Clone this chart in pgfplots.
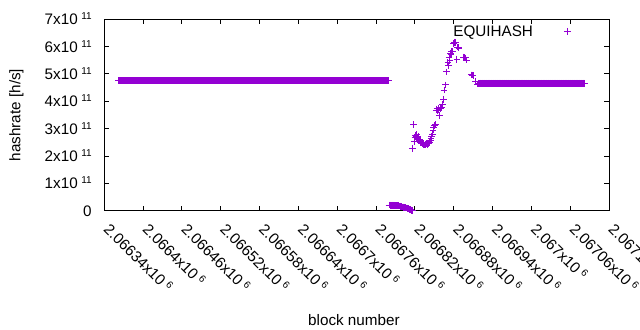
\documentclass[border=0pt]{standalone}
\usepackage{pgfplots}
\pgfplotsset{compat=1.18}
\usepackage{fontspec}
\setmainfont{Liberation Sans}
\definecolor{gpviolet}{HTML}{9400D3}
\newcommand{\sci}[2]{#1x10\hspace{3.5bp}\raisebox{5bp}{\fontsize{10}{10}\selectfont #2}}
\begin{document}
\begin{tikzpicture}[font=\fontsize{15.3}{18}\selectfont]
\begin{axis}[
  at={(0,0)}, anchor=south west,
  scale only axis, width=504.7bp, height=191.4bp,
  xmin=2066340, xmax=2067120, ymin=0, ymax=7e11,
  axis line style={line width=1bp},
  tick style={black, line width=1bp},
  major tick length=4.7bp,
  tick align=inside,
  xtick pos=both, ytick pos=both,
  xtick={2066340,2066400,2066460,2066520,2066580,2066640,2066700,2066760,2066820,2066880,2066940,2067000,2067060,2067120},
  xticklabels={\sci{2.06634}{6},\sci{2.0664}{6},\sci{2.06646}{6},\sci{2.06652}{6},\sci{2.06658}{6},\sci{2.06664}{6},\sci{2.0667}{6},\sci{2.06676}{6},\sci{2.06682}{6},\sci{2.06688}{6},\sci{2.06694}{6},\sci{2.067}{6},\sci{2.06706}{6},\sci{2.06712}{6}},
  ytick={0,1e11,2e11,3e11,4e11,5e11,6e11,7e11},
  yticklabels={0,\sci{1}{11},\sci{2}{11},\sci{3}{11},\sci{4}{11},\sci{5}{11},\sci{6}{11},\sci{7}{11}},
  xticklabel style={xshift=-1.5bp, yshift=-19.3bp, rotate=-45, anchor=base west, inner sep=0pt},
  yticklabel style={xshift=-12.5bp, yshift=-5.4bp, anchor=base east, inner sep=0pt},
  scaled x ticks=false, scaled y ticks=false,
  xlabel={block number}, ylabel={hashrate [h/s]},
  every axis x label/.style={at={(axis description cs:0.5,0)}, xshift=-2.7bp, yshift=-114.3bp, anchor=base},
  every axis y label/.style={at={(axis description cs:0,0.5)}, xshift=-87.8bp, rotate=90, anchor=center},
  legend style={at={(axis description cs:0.9243,0.936)}, anchor=east, draw=none, fill=none, inner sep=0pt, column sep=31bp, nodes={inner sep=0pt}},
  legend plot pos=right,
  legend cell align=right,
  legend image code/.code={\draw[#1] plot coordinates {(0bp,0bp)};},
  mydata/.style={only marks, mark=+, mark size=3.3bp, color=gpviolet, mark options={line width=1bp}},
]
\addplot[mydata] coordinates {
(2066362,4.76e11) (2066363,4.76e11) (2066364,4.76e11) (2066365,4.76e11) (2066366,4.76e11) (2066367,4.76e11) (2066368,4.76e11) (2066369,4.76e11)
(2066370,4.76e11) (2066371,4.76e11) (2066372,4.76e11) (2066373,4.76e11) (2066374,4.76e11) (2066375,4.76e11) (2066376,4.76e11) (2066377,4.76e11) (2066378,4.76e11) (2066379,4.76e11)
(2066380,4.76e11) (2066381,4.76e11) (2066382,4.76e11) (2066383,4.76e11) (2066384,4.76e11) (2066385,4.76e11) (2066386,4.76e11) (2066387,4.76e11) (2066388,4.76e11) (2066389,4.76e11)
(2066390,4.76e11) (2066391,4.76e11) (2066392,4.76e11) (2066393,4.76e11) (2066394,4.76e11) (2066395,4.76e11) (2066396,4.76e11) (2066397,4.76e11) (2066398,4.76e11) (2066399,4.76e11)
(2066400,4.76e11) (2066401,4.76e11) (2066402,4.76e11) (2066403,4.76e11) (2066404,4.76e11) (2066405,4.76e11) (2066406,4.76e11) (2066407,4.76e11) (2066408,4.76e11) (2066409,4.76e11)
(2066410,4.76e11) (2066411,4.76e11) (2066412,4.76e11) (2066413,4.76e11) (2066414,4.76e11) (2066415,4.76e11) (2066416,4.76e11) (2066417,4.76e11) (2066418,4.76e11) (2066419,4.76e11)
(2066420,4.76e11) (2066421,4.76e11) (2066422,4.76e11) (2066423,4.76e11) (2066424,4.76e11) (2066425,4.76e11) (2066426,4.76e11) (2066427,4.76e11) (2066428,4.76e11) (2066429,4.76e11)
(2066430,4.76e11) (2066431,4.76e11) (2066432,4.76e11) (2066433,4.76e11) (2066434,4.76e11) (2066435,4.76e11) (2066436,4.76e11) (2066437,4.76e11) (2066438,4.76e11) (2066439,4.76e11)
(2066440,4.76e11) (2066441,4.76e11) (2066442,4.76e11) (2066443,4.76e11) (2066444,4.76e11) (2066445,4.76e11) (2066446,4.76e11) (2066447,4.76e11) (2066448,4.76e11) (2066449,4.76e11)
(2066450,4.76e11) (2066451,4.76e11) (2066452,4.76e11) (2066453,4.76e11) (2066454,4.76e11) (2066455,4.76e11) (2066456,4.76e11) (2066457,4.76e11) (2066458,4.76e11) (2066459,4.76e11)
(2066460,4.76e11) (2066461,4.76e11) (2066462,4.76e11) (2066463,4.76e11) (2066464,4.76e11) (2066465,4.76e11) (2066466,4.76e11) (2066467,4.76e11) (2066468,4.76e11) (2066469,4.76e11)
(2066470,4.76e11) (2066471,4.76e11) (2066472,4.76e11) (2066473,4.76e11) (2066474,4.76e11) (2066475,4.76e11) (2066476,4.76e11) (2066477,4.76e11) (2066478,4.76e11) (2066479,4.76e11)
(2066480,4.76e11) (2066481,4.76e11) (2066482,4.76e11) (2066483,4.76e11) (2066484,4.76e11) (2066485,4.76e11) (2066486,4.76e11) (2066487,4.76e11) (2066488,4.76e11) (2066489,4.76e11)
(2066490,4.76e11) (2066491,4.76e11) (2066492,4.76e11) (2066493,4.76e11) (2066494,4.76e11) (2066495,4.76e11) (2066496,4.76e11) (2066497,4.76e11) (2066498,4.76e11) (2066499,4.76e11)
(2066500,4.76e11) (2066501,4.76e11) (2066502,4.76e11) (2066503,4.76e11) (2066504,4.76e11) (2066505,4.76e11) (2066506,4.76e11) (2066507,4.76e11) (2066508,4.76e11) (2066509,4.76e11)
(2066510,4.76e11) (2066511,4.76e11) (2066512,4.76e11) (2066513,4.76e11) (2066514,4.76e11) (2066515,4.76e11) (2066516,4.76e11) (2066517,4.76e11) (2066518,4.76e11) (2066519,4.76e11)
(2066520,4.76e11) (2066521,4.76e11) (2066522,4.76e11) (2066523,4.76e11) (2066524,4.76e11) (2066525,4.76e11) (2066526,4.76e11) (2066527,4.76e11) (2066528,4.76e11) (2066529,4.76e11)
(2066530,4.76e11) (2066531,4.76e11) (2066532,4.76e11) (2066533,4.76e11) (2066534,4.76e11) (2066535,4.76e11) (2066536,4.76e11) (2066537,4.76e11) (2066538,4.76e11) (2066539,4.76e11)
(2066540,4.76e11) (2066541,4.76e11) (2066542,4.76e11) (2066543,4.76e11) (2066544,4.76e11) (2066545,4.76e11) (2066546,4.76e11) (2066547,4.76e11) (2066548,4.76e11) (2066549,4.76e11)
(2066550,4.76e11) (2066551,4.76e11) (2066552,4.76e11) (2066553,4.76e11) (2066554,4.76e11) (2066555,4.76e11) (2066556,4.76e11) (2066557,4.76e11) (2066558,4.76e11) (2066559,4.76e11)
(2066560,4.76e11) (2066561,4.76e11) (2066562,4.76e11) (2066563,4.76e11) (2066564,4.76e11) (2066565,4.76e11) (2066566,4.76e11) (2066567,4.76e11) (2066568,4.76e11) (2066569,4.76e11)
(2066570,4.76e11) (2066571,4.76e11) (2066572,4.76e11) (2066573,4.76e11) (2066574,4.76e11) (2066575,4.76e11) (2066576,4.76e11) (2066577,4.76e11) (2066578,4.76e11) (2066579,4.76e11)
(2066580,4.76e11) (2066581,4.76e11) (2066582,4.76e11) (2066583,4.76e11) (2066584,4.76e11) (2066585,4.76e11) (2066586,4.76e11) (2066587,4.76e11) (2066588,4.76e11) (2066589,4.76e11)
(2066590,4.76e11) (2066591,4.76e11) (2066592,4.76e11) (2066593,4.76e11) (2066594,4.76e11) (2066595,4.76e11) (2066596,4.76e11) (2066597,4.76e11) (2066598,4.76e11) (2066599,4.76e11)
(2066600,4.76e11) (2066601,4.76e11) (2066602,4.76e11) (2066603,4.76e11) (2066604,4.76e11) (2066605,4.76e11) (2066606,4.76e11) (2066607,4.76e11) (2066608,4.76e11) (2066609,4.76e11)
(2066610,4.76e11) (2066611,4.76e11) (2066612,4.76e11) (2066613,4.76e11) (2066614,4.76e11) (2066615,4.76e11) (2066616,4.76e11) (2066617,4.76e11) (2066618,4.76e11) (2066619,4.76e11)
(2066620,4.76e11) (2066621,4.76e11) (2066622,4.76e11) (2066623,4.76e11) (2066624,4.76e11) (2066625,4.76e11) (2066626,4.76e11) (2066627,4.76e11) (2066628,4.76e11) (2066629,4.76e11)
(2066630,4.76e11) (2066631,4.76e11) (2066632,4.76e11) (2066633,4.76e11) (2066634,4.76e11) (2066635,4.76e11) (2066636,4.76e11) (2066637,4.76e11) (2066638,4.76e11) (2066639,4.76e11)
(2066640,4.76e11) (2066641,4.76e11) (2066642,4.76e11) (2066643,4.76e11) (2066644,4.76e11) (2066645,4.76e11) (2066646,4.76e11) (2066647,4.76e11) (2066648,4.76e11) (2066649,4.76e11)
(2066650,4.76e11) (2066651,4.76e11) (2066652,4.76e11) (2066653,4.76e11) (2066654,4.76e11) (2066655,4.76e11) (2066656,4.76e11) (2066657,4.76e11) (2066658,4.76e11) (2066659,4.76e11)
(2066660,4.76e11) (2066661,4.76e11) (2066662,4.76e11) (2066663,4.76e11) (2066664,4.76e11) (2066665,4.76e11) (2066666,4.76e11) (2066667,4.76e11) (2066668,4.76e11) (2066669,4.76e11)
(2066670,4.76e11) (2066671,4.76e11) (2066672,4.76e11) (2066673,4.76e11) (2066674,4.76e11) (2066675,4.76e11) (2066676,4.76e11) (2066677,4.76e11) (2066678,4.76e11) (2066679,4.76e11)
(2066680,4.76e11) (2066681,4.76e11) (2066682,4.76e11) (2066683,4.76e11) (2066684,4.76e11) (2066685,4.76e11) (2066686,4.76e11) (2066687,4.76e11) (2066688,4.76e11) (2066689,4.76e11)
(2066690,4.76e11) (2066691,4.76e11) (2066692,4.76e11) (2066693,4.76e11) (2066694,4.76e11) (2066695,4.76e11) (2066696,4.76e11) (2066697,4.76e11) (2066698,4.76e11) (2066699,4.76e11)
(2066700,4.76e11) (2066701,4.76e11) (2066702,4.76e11) (2066703,4.76e11) (2066704,4.76e11) (2066705,4.76e11) (2066706,4.76e11) (2066707,4.76e11) (2066708,4.76e11) (2066709,4.76e11)
(2066710,4.76e11) (2066711,4.76e11) (2066712,4.76e11) (2066713,4.76e11) (2066714,4.76e11) (2066715,4.76e11) (2066716,4.76e11) (2066717,4.76e11) (2066718,4.76e11) (2066719,4.76e11)
(2066720,4.76e11) (2066721,4.76e11) (2066722,4.76e11) (2066723,4.76e11) (2066724,4.76e11) (2066725,4.76e11) (2066726,4.76e11) (2066727,4.76e11) (2066728,4.76e11) (2066729,4.76e11)
(2066730,4.76e11) (2066731,4.76e11) (2066732,4.76e11) (2066733,4.76e11) (2066734,4.76e11) (2066735,4.76e11) (2066736,4.76e11) (2066737,4.76e11) (2066738,4.76e11) (2066739,4.76e11)
(2066740,4.76e11) (2066741,4.76e11) (2066742,4.76e11) (2066743,4.76e11) (2066744,4.76e11) (2066745,4.76e11) (2066746,4.76e11) (2066747,4.76e11) (2066748,4.76e11) (2066749,4.76e11)
(2066750,4.76e11) (2066751,4.76e11) (2066752,4.76e11) (2066753,4.76e11) (2066754,4.76e11) (2066755,4.76e11) (2066756,4.76e11) (2066757,4.76e11) (2066758,4.76e11) (2066759,4.76e11)
(2066760,4.76e11) (2066761,4.76e11) (2066762,4.76e11) (2066763,4.76e11) (2066764,4.76e11) (2066765,4.76e11) (2066766,4.76e11) (2066767,4.76e11) (2066768,4.76e11) (2066769,4.76e11)
(2066770,4.76e11) (2066771,4.76e11) (2066772,4.76e11) (2066773,4.76e11) (2066774,4.76e11) (2066775,4.76e11) (2066776,4.76e11) (2066777,4.76e11) (2066778,4.76e11) (2066779,4.76e11)
};
\addlegendentry{EQUIHASH}
\addplot[mydata, forget plot] coordinates {
(2066780,2.02e10) (2066781,2.02e10) (2066782,2.01e10) (2066783,2.01e10) (2066784,2.00e10) (2066785,2.00e10) (2066786,2.00e10) (2066787,1.99e10) (2066788,1.98e10) (2066789,1.97e10)
(2066790,1.96e10) (2066791,1.95e10) (2066792,1.90e10) (2066793,1.85e10) (2066794,1.80e10) (2066795,1.75e10) (2066796,1.70e10) (2066797,1.65e10) (2066798,1.60e10) (2066799,1.55e10)
(2066800,1.50e10) (2066801,1.42e10) (2066802,1.35e10) (2066803,1.28e10) (2066804,1.20e10) (2066805,1.12e10) (2066806,1.05e10) (2066807,0.98e10) (2066808,0.90e10) (2066809,0.80e10)
(2066810,0.70e10) (2066811,0.60e10) (2066812,0.50e10) (2066813,0.38e10) (2066814,0.26e10) (2066815,0.15e10) (2066816,0.02e10)
};
\addplot[mydata, forget plot] coordinates {
(2066816,2.28e11) (2066818,3.16e11) (2066819,2.52e11) (2066820,2.66e11) (2066821,2.74e11) (2066822,2.70e11) (2066823,2.78e11) (2066824,2.66e11) (2066825,2.72e11) (2066826,2.62e11)
(2066827,2.56e11) (2066828,2.50e11) (2066829,2.53e11) (2066830,2.47e11) (2066831,2.44e11) (2066832,2.49e11) (2066833,2.42e11) (2066834,2.45e11) (2066835,2.41e11) (2066836,2.44e11)
(2066837,2.40e11) (2066838,2.46e11) (2066839,2.43e11) (2066840,2.48e11) (2066841,2.46e11) (2066842,2.52e11) (2066843,2.50e11) (2066844,2.57e11) (2066845,2.63e11) (2066846,2.72e11)
(2066847,2.80e11) (2066848,2.95e11) (2066849,3.06e11) (2066850,3.13e11) (2066851,3.10e11) (2066852,3.16e11) (2066853,3.68e11) (2066854,3.72e11) (2066855,3.66e11) (2066856,3.74e11)
(2066857,3.70e11) (2066858,3.48e11) (2066859,3.76e11) (2066860,3.72e11) (2066861,3.78e11) (2066863,3.88e11) (2066864,4.07e11) (2066865,4.41e11) (2066867,4.60e11) (2066869,5.08e11)
(2066871,5.41e11) (2066872,5.30e11) (2066873,5.61e11) (2066874,5.50e11) (2066875,5.76e11) (2066876,5.70e11) (2066877,5.82e11) (2066878,5.82e11) (2066880,6.12e11) (2066881,6.16e11)
(2066882,6.16e11) (2066883,6.14e11) (2066885,5.54e11) (2066886,5.98e11) (2066887,5.96e11) (2066888,5.95e11) (2066895,5.62e11) (2066896,5.61e11) (2066897,5.60e11) (2066898,5.59e11)
(2066900,5.51e11) (2066907,4.97e11) (2066908,4.96e11) (2066909,4.96e11) (2066910,4.95e11) (2066914,4.74e11) (2066917,4.63e11)
};
\addplot[mydata, forget plot] coordinates {
(2066919,4.66e11)
(2066920,4.66e11) (2066921,4.66e11) (2066922,4.66e11) (2066923,4.66e11) (2066924,4.66e11) (2066925,4.66e11) (2066926,4.66e11) (2066927,4.66e11) (2066928,4.66e11) (2066929,4.66e11)
(2066930,4.66e11) (2066931,4.66e11) (2066932,4.66e11) (2066933,4.66e11) (2066934,4.66e11) (2066935,4.66e11) (2066936,4.66e11) (2066937,4.66e11) (2066938,4.66e11) (2066939,4.66e11)
(2066940,4.66e11) (2066941,4.66e11) (2066942,4.66e11) (2066943,4.66e11) (2066944,4.66e11) (2066945,4.66e11) (2066946,4.66e11) (2066947,4.66e11) (2066948,4.66e11) (2066949,4.66e11)
(2066950,4.66e11) (2066951,4.66e11) (2066952,4.66e11) (2066953,4.66e11) (2066954,4.66e11) (2066955,4.66e11) (2066956,4.66e11) (2066957,4.66e11) (2066958,4.66e11) (2066959,4.66e11)
(2066960,4.66e11) (2066961,4.66e11) (2066962,4.66e11) (2066963,4.66e11) (2066964,4.66e11) (2066965,4.66e11) (2066966,4.66e11) (2066967,4.66e11) (2066968,4.66e11) (2066969,4.66e11)
(2066970,4.66e11) (2066971,4.66e11) (2066972,4.66e11) (2066973,4.66e11) (2066974,4.66e11) (2066975,4.66e11) (2066976,4.66e11) (2066977,4.66e11) (2066978,4.66e11) (2066979,4.66e11)
(2066980,4.66e11) (2066981,4.66e11) (2066982,4.66e11) (2066983,4.66e11) (2066984,4.66e11) (2066985,4.66e11) (2066986,4.66e11) (2066987,4.66e11) (2066988,4.66e11) (2066989,4.66e11)
(2066990,4.66e11) (2066991,4.66e11) (2066992,4.66e11) (2066993,4.66e11) (2066994,4.66e11) (2066995,4.66e11) (2066996,4.66e11) (2066997,4.66e11) (2066998,4.66e11) (2066999,4.66e11)
(2067000,4.66e11) (2067001,4.66e11) (2067002,4.66e11) (2067003,4.66e11) (2067004,4.66e11) (2067005,4.66e11) (2067006,4.66e11) (2067007,4.66e11) (2067008,4.66e11) (2067009,4.66e11)
(2067010,4.66e11) (2067011,4.66e11) (2067012,4.66e11) (2067013,4.66e11) (2067014,4.66e11) (2067015,4.66e11) (2067016,4.66e11) (2067017,4.66e11) (2067018,4.66e11) (2067019,4.66e11)
(2067020,4.66e11) (2067021,4.66e11) (2067022,4.66e11) (2067023,4.66e11) (2067024,4.66e11) (2067025,4.66e11) (2067026,4.66e11) (2067027,4.66e11) (2067028,4.66e11) (2067029,4.66e11)
(2067030,4.66e11) (2067031,4.66e11) (2067032,4.66e11) (2067033,4.66e11) (2067034,4.66e11) (2067035,4.66e11) (2067036,4.66e11) (2067037,4.66e11) (2067038,4.66e11) (2067039,4.66e11)
(2067040,4.66e11) (2067041,4.66e11) (2067042,4.66e11) (2067043,4.66e11) (2067044,4.66e11) (2067045,4.66e11) (2067046,4.66e11) (2067047,4.66e11) (2067048,4.66e11) (2067049,4.66e11)
(2067050,4.66e11) (2067051,4.66e11) (2067052,4.66e11) (2067053,4.66e11) (2067054,4.66e11) (2067055,4.66e11) (2067056,4.66e11) (2067057,4.66e11) (2067058,4.66e11) (2067059,4.66e11)
(2067060,4.66e11) (2067061,4.66e11) (2067062,4.66e11) (2067063,4.66e11) (2067064,4.66e11) (2067065,4.66e11) (2067066,4.66e11) (2067067,4.66e11) (2067068,4.66e11) (2067069,4.66e11)
(2067070,4.66e11) (2067071,4.66e11) (2067072,4.66e11) (2067073,4.66e11) (2067074,4.66e11) (2067075,4.66e11) (2067076,4.66e11) (2067077,4.66e11) (2067078,4.66e11) (2067079,4.66e11)
(2067080,4.66e11) (2067081,4.66e11) (2067082,4.66e11)
};
\end{axis}
\pgfresetboundingbox
\path[use as bounding box] (-104.3bp,-119.3bp) rectangle (535.7bp,210.7bp);
\end{tikzpicture}
\end{document}
